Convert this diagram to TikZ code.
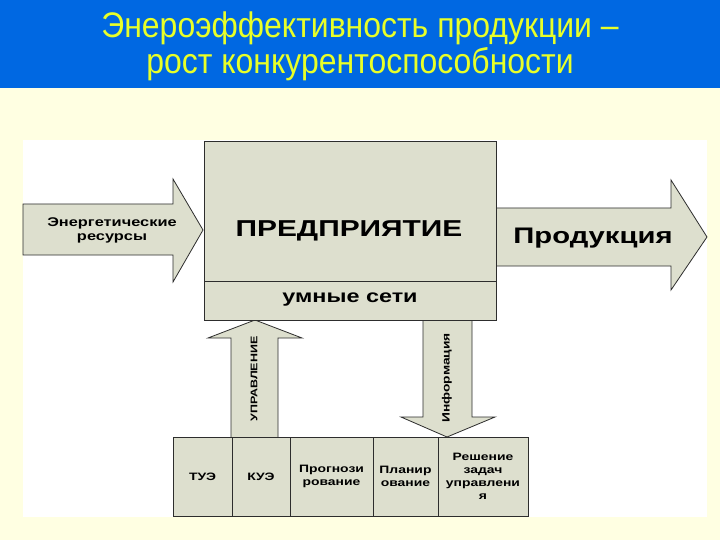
\documentclass[tikz,border=0pt]{standalone}
\usepackage{fontspec}
\setmainfont{Liberation Sans}
\newfontfamily\bw{Liberation Sans}[FakeStretch=1.3]
\newfontfamily\tfont{Liberation Sans}[FakeStretch=0.9]
\definecolor{titleblue}{RGB}{0,104,226}
\definecolor{bgyellow}{RGB}{255,255,226}
\definecolor{boxfill}{RGB}{221,223,206}
\definecolor{titleyellow}{RGB}{232,255,40}
\definecolor{edge}{RGB}{45,45,45}
\begin{document}
\begin{tikzpicture}[x=1pt,y=-1pt,
  box/.style={draw=edge, fill=boxfill, line width=0.8pt, inner sep=0pt, outer sep=0pt, anchor=north west},
  barrow/.style={draw=edge, fill=boxfill, line width=0.8pt, line join=miter},
  lbl/.style={font=\bw\bfseries, text=black, align=center, inner sep=0pt},
  cell/.style={box, minimum height=79pt, font=\bw\bfseries\fontsize{10.7}{13}\selectfont, align=center}
]
\useasboundingbox (0,0) rectangle (720,540);
\fill[bgyellow] (0,0) rectangle (720,540);
\fill[titleblue] (0,0) rectangle (720,88);
\fill[white] (23,140) rectangle (707,517);

% title
\node[text=titleyellow, font=\tfont\fontsize{35.5}{36}\selectfont, align=center] (title) at (360,46)
  {Энероэффективность продукции –\\рост конкурентоспособности};

% arrows
\draw[barrow] (23,204) -- (173,204) -- (173,179) -- (203,230) -- (173,282) -- (173,255) -- (23,255) -- cycle;
\draw[barrow] (496,208) -- (671,208) -- (671,180) -- (707,237) -- (671,290) -- (671,266) -- (496,266) -- cycle;
\draw[barrow] (231,437) -- (231,338) -- (208,338) -- (255,320) -- (302,338) -- (278,338) -- (278,437);
\draw[barrow] (423,320) -- (423,417) -- (401,417) -- (447,437) -- (495,417) -- (472,417) -- (472,320);

% main boxes
\node[box, minimum width=292pt, minimum height=140pt] (ent) at (204,141) {};
\node[box, minimum width=292pt, minimum height=39pt] (smart) at (204,281) {};

\node[lbl, font=\bw\bfseries\fontsize{23}{26}\selectfont] (entl) at (349,231) {ПРЕДПРИЯТИЕ};
\node[lbl, font=\bw\bfseries\fontsize{18}{20}\selectfont] (smartl) at (350,300) {умные сети};
\node[lbl, font=\bw\bfseries\fontsize{12.6}{14}\selectfont] (resl) at (112,230) {Энергетические\\ресурсы};
\node[lbl, font=\bw\bfseries\fontsize{22.5}{24}\selectfont] (prodl) at (593,238) {Продукция};
\node[lbl, rotate=90, font=\bw\bfseries\fontsize{9.6}{12}\selectfont] (upr) at (254,379) {УПРАВЛЕНИЕ};
\node[lbl, rotate=90, font=\bw\bfseries\fontsize{10.6}{13}\selectfont] (inf) at (447,378) {Информация};

% table
\node[cell, minimum width=59pt] (c1) at (173,437) {ТУЭ};
\node[cell, minimum width=58pt] (c2) at (232,437) {КУЭ};
\node[cell, minimum width=83pt] (c3) at (290,437) {Прогнози\\рование};
\node[cell, minimum width=65pt] (c4) at (373,437) {Планир\\ование};
\node[cell, minimum width=90pt] (c5) at (438,437) {Решение\\задач\\управлени\\я};
\end{tikzpicture}
\end{document}
